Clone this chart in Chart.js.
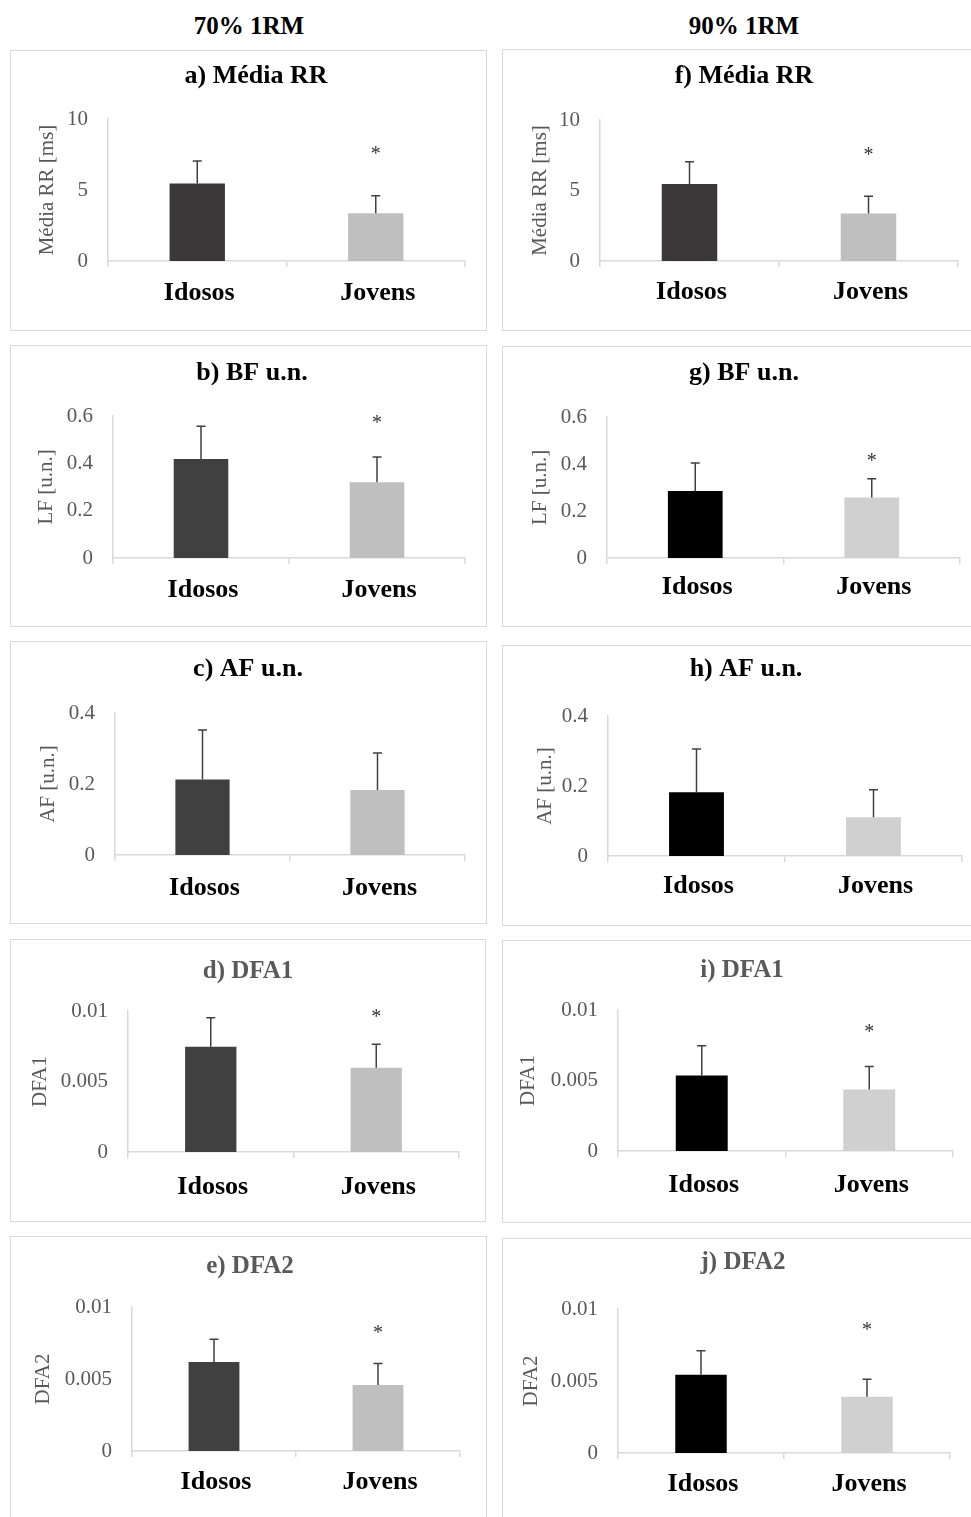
<!DOCTYPE html>
<html>
<head>
<meta charset="utf-8">
<script src="https://cdn.jsdelivr.net/npm/chart.js@4.4.1/dist/chart.umd.min.js"></script>
<style>
  html, body { margin: 0; padding: 0; background: #fff; width: 971px; height: 1517px; overflow: hidden; position: relative; }
  .head { position: absolute; top: 10px; width: 200px; text-align: center; font: bold 25px "Liberation Serif", serif; line-height: 32px; color: #000; }
  .box { position: absolute; border: 1.5px solid #d9d9d9; box-sizing: border-box; }
  canvas { position: absolute; }
</style>
</head>
<body>
<div class="head" style="left:149px">70% 1RM</div>
<div class="head" style="left:644px">90% 1RM</div>
<script>
const SERIF = '"Liberation Serif", serif';

const groups = ['Idosos', 'Jovens'];

// y axes: [min, max, step]
const rrAxis = [0, 10, 5];
const lfAxis = [0, 0.6, 0.2];
const hfAxis = [0, 0.4, 0.2];
const dfaAxis = [0, 0.01, 0.005];

// 70% 1RM  (mean, SD, level of the significance mark)
const rrMean70 = [5.46, 3.37];
const rrSd70 = [1.58, 1.23];
const rrStar70 = [null, 7.73];
const lfMean70 = [0.418, 0.320];
const lfSd70 = [0.139, 0.107];
const lfStar70 = [null, 0.582];
const hfMean70 = [0.213, 0.183];
const hfSd70 = [0.139, 0.104];
const hfStar70 = [null, null];
const dfa1Mean70 = [0.00746, 0.00597];
const dfa1Sd70 = [0.00206, 0.00168];
const dfa1Star70 = [null, 0.0098];
const dfa2Mean70 = [0.00618, 0.00458];
const dfa2Sd70 = [0.00158, 0.00149];
const dfa2Star70 = [null, 0.00838];

// 90% 1RM
const rrMean90 = [5.46, 3.37];
const rrSd90 = [1.58, 1.23];
const rrStar90 = [null, 7.73];
const lfMean90 = [0.285, 0.257];
const lfSd90 = [0.119, 0.080];
const lfStar90 = [null, 0.427];
const hfMean90 = [0.182, 0.111];
const hfSd90 = [0.124, 0.078];
const hfStar90 = [null, null];
const dfa1Mean90 = [0.00535, 0.00437];
const dfa1Sd90 = [0.00211, 0.00163];
const dfa1Star90 = [null, 0.00865];
const dfa2Mean90 = [0.00543, 0.0039];
const dfa2Sd90 = [0.00167, 0.00123];
const dfa2Star90 = [null, 0.00875];

const GRAY = '#595959';

// box: x, y, w, h ; g: axisX, right, top, zero, yTitleX, titleX, titleY, labelY (box relative)
const panels = [
  { title: 'a) Média RR', yTitle: 'Média RR [ms]', axis: rrAxis, mean: rrMean70, sd: rrSd70, star: rrStar70,
    colors: ['#3a3838', '#bfbfbf'], tColor: '#000', tSize: 26,
    box: [10, 50, 477, 281], g: [98, 455, 69, 211, 37, 246, 26, 243] },
  { title: 'b) BF u.n.', yTitle: 'LF [u.n.]', axis: lfAxis, mean: lfMean70, sd: lfSd70, star: lfStar70,
    colors: ['#404040', '#bfbfbf'], tColor: '#000', tSize: 26,
    box: [10, 345, 477, 282], g: [103, 455, 71, 213, 36, 242, 28, 245] },
  { title: 'c) AF u.n.', yTitle: 'AF [u.n.]', axis: hfAxis, mean: hfMean70, sd: hfSd70, star: hfStar70,
    colors: ['#404040', '#bfbfbf'], tColor: '#000', tSize: 26,
    box: [10, 641, 477, 283], g: [105, 455, 72, 214, 38, 238, 28, 247] },
  { title: 'd) DFA1', yTitle: 'DFA1', axis: dfaAxis, mean: dfa1Mean70, sd: dfa1Sd70, star: dfa1Star70,
    colors: ['#404040', '#bfbfbf'], tColor: GRAY, tSize: 25,
    box: [10, 939, 476, 283], g: [118, 449, 72, 213, 30, 238, 33, 248] },
  { title: 'e) DFA2', yTitle: 'DFA2', axis: dfaAxis, mean: dfa2Mean70, sd: dfa2Sd70, star: dfa2Star70,
    colors: ['#404040', '#bfbfbf'], tColor: GRAY, tSize: 25,
    box: [10, 1236, 477, 292], g: [122, 450, 71, 215, 33, 240, 31, 246] },
  { title: 'f) Média RR', yTitle: 'Média RR [ms]', axis: rrAxis, mean: rrMean90, sd: rrSd90, star: rrStar90,
    colors: ['#3a3838', '#bfbfbf'], tColor: '#000', tSize: 26,
    box: [502, 49, 480, 282], g: [98, 456, 71, 212, 38, 242, 27, 243] },
  { title: 'g) BF u.n.', yTitle: 'LF [u.n.]', axis: lfAxis, mean: lfMean90, sd: lfSd90, star: lfStar90,
    colors: ['#000000', '#d0d0d0'], tColor: '#000', tSize: 26,
    box: [502, 346, 480, 281], g: [105, 458, 71, 212, 38, 242, 27, 241] },
  { title: 'h) AF u.n.', yTitle: 'AF [u.n.]', axis: hfAxis, mean: hfMean90, sd: hfSd90, star: hfStar90,
    colors: ['#000000', '#d0d0d0'], tColor: '#000', tSize: 26,
    box: [502, 645, 480, 281], g: [106, 460, 71, 211, 43, 244, 24, 241] },
  { title: 'i) DFA1', yTitle: 'DFA1', axis: dfaAxis, mean: dfa1Mean90, sd: dfa1Sd90, star: dfa1Star90,
    colors: ['#000000', '#d0d0d0'], tColor: GRAY, tSize: 25,
    box: [502, 940, 480, 283], g: [116, 451, 70, 211, 26, 240, 31, 245] },
  { title: 'j) DFA2', yTitle: 'DFA2', axis: dfaAxis, mean: dfa2Mean90, sd: dfa2Sd90, star: dfa2Star90,
    colors: ['#000000', '#d0d0d0'], tColor: GRAY, tSize: 25,
    box: [502, 1238, 480, 290], g: [116, 448, 71, 215, 29, 241, 25, 246] },
];

function makePanel(p) {
  const [bx, by, bw, bh] = p.box;
  const [axisX, right, top, zero, yTitleX, titleX, titleY, labelY] = p.g;

  const box = document.createElement('div');
  box.className = 'box';
  Object.assign(box.style, { left: bx + 'px', top: by + 'px', width: bw + 'px', height: bh + 'px' });
  document.body.appendChild(box);

  const cv = document.createElement('canvas');
  cv.width = bw;
  cv.height = bh;
  cv.style.left = bx + 'px';
  cv.style.top = by + 'px';
  document.body.appendChild(cv);

  // panel title, error bars (mean + SD) and the * marks
  const extras = {
    id: 'extras',
    afterDatasetsDraw(chart) {
      const ctx = chart.ctx;
      const y = chart.scales.y;
      const bars = chart.getDatasetMeta(0).data;
      ctx.save();
      ctx.fillStyle = p.tColor;
      ctx.font = 'bold ' + p.tSize + 'px ' + SERIF;
      ctx.textAlign = 'center';
      ctx.textBaseline = 'middle';
      ctx.fillText(p.title, titleX, titleY);

      ctx.strokeStyle = '#404040';
      ctx.lineWidth = 1.5;
      bars.forEach((b, i) => {
        const yt = y.getPixelForValue(p.mean[i] + p.sd[i]);
        ctx.beginPath();
        ctx.moveTo(b.x, b.y);
        ctx.lineTo(b.x, yt);
        ctx.moveTo(b.x - 4.5, yt);
        ctx.lineTo(b.x + 4.5, yt);
        ctx.stroke();
        if (p.star[i] != null) {
          ctx.fillStyle = '#333';
          ctx.font = '20px ' + SERIF;
          ctx.textAlign = 'center';
          ctx.textBaseline = 'alphabetic';
          ctx.fillText('*', b.x, y.getPixelForValue(p.star[i]) + 9);
        }
      });
      ctx.restore();
    }
  };

  const labelFont = 26;
  const tickLen = 6;

  new Chart(cv, {
    type: 'bar',
    data: {
      labels: groups,
      datasets: [{ data: p.mean, backgroundColor: p.colors, barPercentage: 0.31, categoryPercentage: 1 }]
    },
    options: {
      responsive: false,
      animation: false,
      devicePixelRatio: 1,
      layout: { padding: { left: 0, right: bw - right, top: top, bottom: 0 } },
      plugins: {
        legend: { display: false },
        tooltip: { enabled: false },
        title: { display: false }
      },
      scales: {
        x: {
          grid: { display: true, drawOnChartArea: false, drawTicks: true, tickLength: tickLen, color: '#d9d9d9', lineWidth: 1.5, offset: true },
          border: { display: true, color: '#d9d9d9', width: 1.5 },
          ticks: {
            color: '#000',
            font: { family: SERIF, size: labelFont, weight: 'bold', lineHeight: 1.2 },
            padding: labelY - zero - tickLen - labelFont * 0.6,
            labelOffset: 2,
            maxRotation: 0
          },
          afterFit: s => { s.height = bh - zero; }
        },
        y: {
          min: p.axis[0],
          max: p.axis[1],
          grid: { display: false, drawTicks: false },
          border: { display: true, color: '#d9d9d9', width: 1.5 },
          ticks: {
            stepSize: p.axis[2],
            color: GRAY,
            font: { family: SERIF, size: 21 },
            padding: 20,
            callback: v => String(+Number(v).toFixed(4))
          },
          title: {
            display: true,
            text: p.yTitle,
            color: GRAY,
            font: { family: SERIF, size: 21, lineHeight: 1.2 },
            padding: { top: yTitleX - 12.6, bottom: 0 }
          },
          afterFit: s => { s.width = axisX; }
        }
      }
    },
    plugins: [extras]
  });
}

panels.forEach(makePanel);
</script>
</body>
</html>
